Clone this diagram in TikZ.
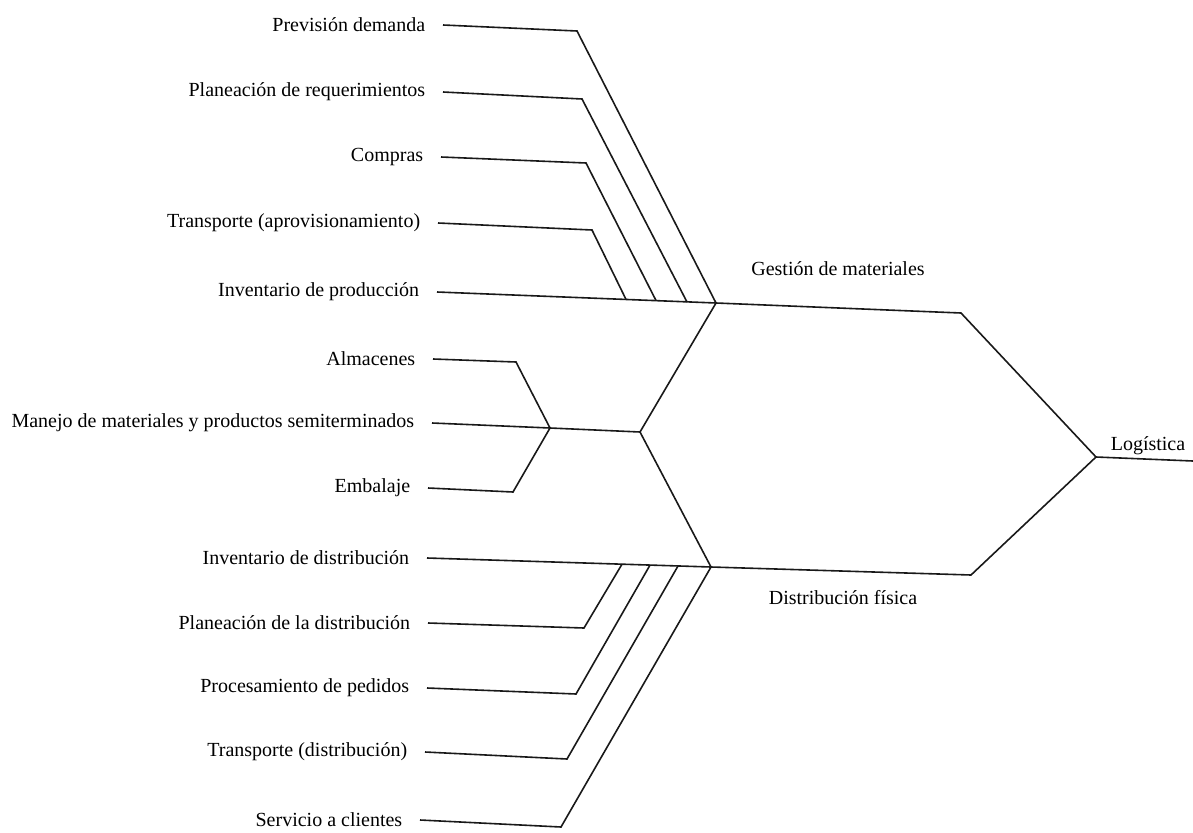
\documentclass[tikz,border=0pt]{standalone}
\usepackage{fontspec}
\setmainfont{Liberation Serif}
\begin{document}
\begin{tikzpicture}[x=1pt,y=-1pt,
  line width=1.6pt, line join=miter,
  lbl/.style={anchor=east, inner xsep=17pt, inner ysep=0pt, font=\fontsize{20}{23}\selectfont},
  caption/.style={inner sep=0pt, font=\fontsize{20}{23}\selectfont},
  branch/.style={draw=black!90}]
\useasboundingbox (0,0) rectangle (1193,832);

% ---- left-hand labels (east anchor = start of their line) ----
\node[lbl] (prev) at (443,25)  {Previsión demanda};
\node[lbl] (plan) at (443,92)  {Planeación de requerimientos};
\node[lbl] (comp) at (441,157) {Compras};
\node[lbl] (tapr) at (438,223) {Transporte (aprovisionamiento)};
\node[lbl] (invp) at (437,292) {Inventario de producción};

\node[lbl] (alma) at (433,359) {Almacenes};
\node[lbl] (mane) at (432,423) {Manejo de materiales y productos semiterminados};
\node[lbl] (emba) at (428,488) {Embalaje};

\node[lbl] (invd) at (427,558) {Inventario de distribución};
\node[lbl] (pdis) at (428,623) {Planeación de la distribución};
\node[lbl] (proc) at (427,688) {Procesamiento de pedidos};
\node[lbl] (tdis) at (425,752) {Transporte (distribución)};
\node[lbl] (serv) at (420,820) {Servicio a clientes};

% ---- bends and junctions ----
\coordinate (bprev) at (577,31);
\coordinate (bplan) at (582,99);
\coordinate (bcomp) at (586,163);
\coordinate (btapr) at (592,230);
\coordinate (mat)   at (716,303);
\coordinate (jplan) at (687,302);
\coordinate (jcomp) at (656,300.5);
\coordinate (jtapr) at (626,299.4);

\coordinate (balma) at (516,362);
\coordinate (bemba) at (513,492);
\coordinate (alm)   at (550,428);
\coordinate (mid)   at (640,432);

\coordinate (dis)   at (711,567);
\coordinate (bpdis) at (584,628);
\coordinate (bproc) at (576,694);
\coordinate (btdis) at (567,759);
\coordinate (bserv) at (561,827);
\coordinate (jpdis) at (622,564.2);
\coordinate (jproc) at (650,565.1);
\coordinate (jtdis) at (678,566);

\coordinate (gtop)  at (961,313);
\coordinate (gbot)  at (971,575);
\coordinate (logj)  at (1096,457);
\coordinate (logend) at (1193,461);

% ---- material management branch ----
\draw[branch] (prev.east) -- (bprev) -- (mat);
\draw[branch] (plan.east) -- (bplan) -- (jplan);
\draw[branch] (comp.east) -- (bcomp) -- (jcomp);
\draw[branch] (tapr.east) -- (btapr) -- (jtapr);
\draw[branch] (invp.east) -- (mat) -- (gtop) -- (logj);

% ---- shared middle branch ----
\draw[branch] (alma.east) -- (balma) -- (alm);
\draw[branch] (emba.east) -- (bemba) -- (alm);
\draw[branch] (mane.east) -- (alm) -- (mid);
\draw[branch] (mat) -- (mid) -- (dis);

% ---- physical distribution branch ----
\draw[branch] (invd.east) -- (dis) -- (gbot) -- (logj);
\draw[branch] (pdis.east) -- (bpdis) -- (jpdis);
\draw[branch] (proc.east) -- (bproc) -- (jproc);
\draw[branch] (tdis.east) -- (btdis) -- (jtdis);
\draw[branch] (serv.east) -- (bserv) -- (dis);

\draw[branch] (logj) -- (logend);

% ---- captions ----
\node[caption] (gest) at (838,269) {Gestión de materiales};
\node[caption] (dfis) at (843,598) {Distribución física};
\node[caption] (logi) at (1148,446) {Logística};
\end{tikzpicture}
\end{document}
